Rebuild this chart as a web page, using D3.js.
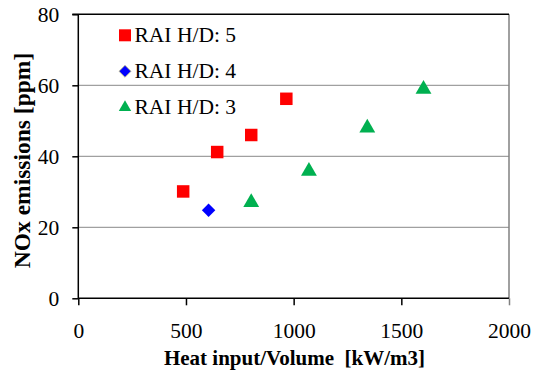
<!DOCTYPE html>
<html>
<head>
<meta charset="utf-8">
<script src="https://cdn.jsdelivr.net/npm/d3@7"></script>
<style>
  html, body { margin: 0; padding: 0; background: #fff; }
  svg { display: block; }
  svg text { font-family: "Liberation Serif", serif; }
</style>
</head>
<body>
<svg id="chart" width="544" height="374"></svg>
<script>
// NOx emissions vs. volumetric heat input for three RAI H/D ratios
const seriesNames = ["RAI H/D: 5", "RAI H/D: 4", "RAI H/D: 3"];
const heatHD5 = [487, 645, 803, 966];
const noxHD5  = [30.1, 41.2, 46.0, 56.2];
const heatHD4 = [605];
const noxHD4  = [24.8];
const heatHD3 = [803, 1071, 1342, 1603];
const noxHD3  = [27.0, 35.8, 48.0, 58.9];
const xTicks = [0, 500, 1000, 1500, 2000];
const yTicks = [0, 20, 40, 60, 80];
const xTitle = "Heat input/Volume\u00a0\u00a0[kW/m3]";
const yTitle = "NOx emissions [ppm]";

const FONT = "Liberation Serif";
const svg = d3.select("#chart");
const plotL = 78.3, plotR = 509, plotT = 14.3, plotB = 298.3;

const x = d3.scaleLinear().domain([0, 2000]).range([plotL, plotR]);
const y = d3.scaleLinear().domain([0, 80]).range([plotB, plotT]);

// horizontal gridlines
svg.append("g").selectAll("line")
  .data(yTicks.filter(t => t > 0 && t < 80))
  .join("line")
  .attr("x1", plotL).attr("x2", plotR)
  .attr("y1", d => y(d)).attr("y2", d => y(d))
  .attr("stroke", "#a0a0a0").attr("stroke-width", 1.3);

// plot frame: right edge grey, top edge dark
svg.append("line")
  .attr("x1", plotR).attr("x2", plotR).attr("y1", plotT).attr("y2", plotB)
  .attr("stroke", "#808080").attr("stroke-width", 1.5);
svg.append("line")
  .attr("x1", plotL - 6).attr("x2", plotR).attr("y1", plotT).attr("y2", plotT)
  .attr("stroke", "#000").attr("stroke-width", 1.5);

// axes
const xAxis = d3.axisBottom(x).tickValues(xTicks).tickSize(7).tickPadding(18).tickFormat(d3.format("d"));
const yAxis = d3.axisLeft(y).tickValues(yTicks).tickSize(6).tickPadding(13).tickFormat(d3.format("d"));

const gx = svg.append("g").attr("transform", `translate(0,${plotB})`).call(xAxis);
const gy = svg.append("g").attr("transform", `translate(${plotL},0)`).call(yAxis);

[gx, gy].forEach(g => {
  g.attr("font-family", FONT).attr("font-size", 21.5);
  g.select(".domain").attr("stroke", "#000").attr("stroke-width", 1.5);
  g.selectAll(".tick line").attr("stroke", "#000").attr("stroke-width", 1.5);
  g.selectAll(".tick text")
    .attr("fill", "#000")
    .attr("font-family", FONT)
    .attr("font-size", 21.5);
});
gx.select(".domain").attr("d", `M${plotL},0H${plotR}`);
gy.select(".domain").attr("d", `M0,${plotB}V${plotT}`);
gx.selectAll(".tick line").filter(d => d === 2000).attr("stroke", "#808080");
// x tick labels: baseline ~40px below the axis
gx.selectAll(".tick text").attr("dy", null).attr("y", 40);

// axis titles
svg.append("text")
  .attr("x", 294.5).attr("y", 365)
  .attr("text-anchor", "middle")
  .attr("font-family", FONT).attr("font-size", 21).attr("font-weight", "bold")
  .text(xTitle);
svg.append("text")
  .attr("transform", `translate(29.5,160.5) rotate(-90)`)
  .attr("text-anchor", "middle")
  .attr("font-family", FONT).attr("font-size", 23.5).attr("font-weight", "bold")
  .text(yTitle);

// marker shapes
const sym = {
  square: d3.symbol().type(d3.symbolSquare).size(156),
  diamond: d3.symbol().type(d3.symbolDiamond2).size(115),
  triangle: d3.symbol().type(d3.symbolTriangle2).size(180)
};
const styles = [
  { shape: "square", fill: "#ff0000" },
  { shape: "diamond", fill: "#0000ff" },
  { shape: "triangle", fill: "#00b050" }
];

const series = [
  { xs: heatHD5, ys: noxHD5 },
  { xs: heatHD4, ys: noxHD4 },
  { xs: heatHD3, ys: noxHD3 }
];

series.forEach((s, i) => {
  const st = styles[i];
  svg.append("g").selectAll("path")
    .data(s.xs.map((v, j) => [v, s.ys[j]]))
    .join("path")
    .attr("d", sym[st.shape]())
    .attr("transform", d => `translate(${x(d[0])},${y(d[1])})`)
    .attr("fill", st.fill);
});

// legend
const legendSym = {
  square: d3.symbol().type(d3.symbolSquare).size(144),
  diamond: d3.symbol().type(d3.symbolDiamond2).size(92),
  triangle: d3.symbol().type(d3.symbolTriangle2).size(110)
};
const legendBaselines = [42.3, 78.3, 114.3];
const legend = svg.append("g");
seriesNames.forEach((name, i) => {
  const base = legendBaselines[i];
  const st = styles[i];
  legend.append("path")
    .attr("d", legendSym[st.shape]())
    .attr("transform", `translate(125,${base - 7})`)
    .attr("fill", st.fill)
    .attr("stroke", st.shape === "diamond" ? "#c8c878" : "none")
    .attr("stroke-width", 0.8);
  legend.append("text")
    .attr("x", 134.5).attr("y", base)
    .attr("font-family", FONT).attr("font-size", 21.5)
    .text(name);
});
</script>
</body>
</html>
